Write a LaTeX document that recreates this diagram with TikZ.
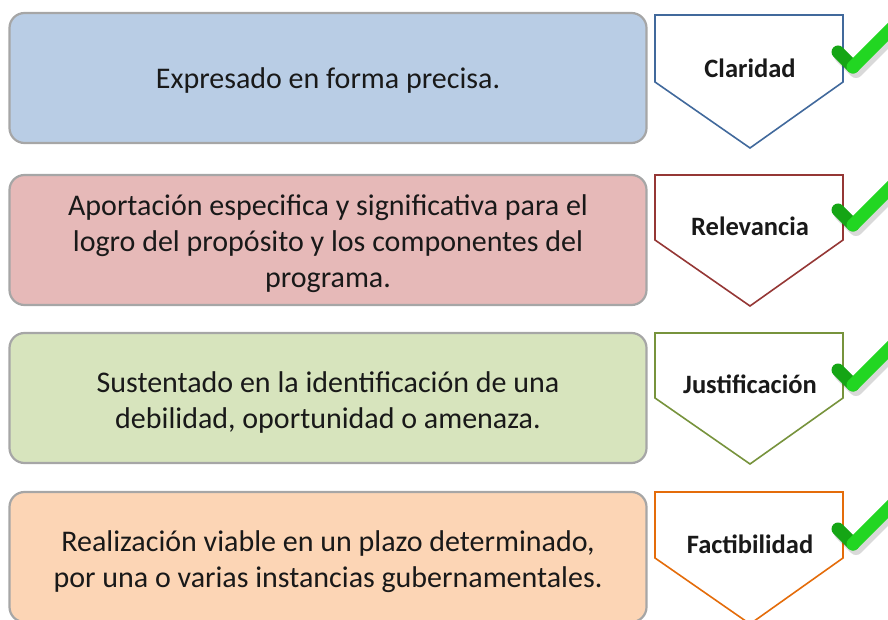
\documentclass[tikz,border=0pt]{standalone}
\usepackage{fontspec}
\setmainfont{Carlito}
\usepackage{tikz}

\definecolor{azulfondo}{HTML}{B9CDE5}
\definecolor{rojofondo}{HTML}{E6B9B8}
\definecolor{verdefondo}{HTML}{D7E4BD}
\definecolor{naranjafondo}{HTML}{FCD5B5}
\definecolor{azulborde}{HTML}{41699C}
\definecolor{rojoborde}{HTML}{953735}
\definecolor{verdeborde}{HTML}{77933C}
\definecolor{naranjaborde}{HTML}{E46C0A}
\definecolor{verdeclaro}{HTML}{22D622}
\definecolor{verdeoscuro}{HTML}{15A515}

\begin{document}
\begin{tikzpicture}[x=1pt,y=-1pt,
  caja/.style={draw=black!35,line width=2.2pt,rounded corners=15pt,
    minimum width=637pt,minimum height=130pt},
  texto/.style={align=center,font=\fontsize{30}{36}\selectfont,text=black!90},
  etiqueta/.style={font=\bfseries\fontsize{26.5}{30}\selectfont,text=black!90},
  flecha/.style={line width=1.6pt,fill=white}]
  \useasboundingbox (0,0) rectangle (888,620);
  % cajas de texto
  \node[caja,fill=azulfondo] (caja1) at (328,78) {};
  \node[caja,fill=rojofondo] (caja2) at (328,240) {};
  \node[caja,fill=verdefondo] (caja3) at (328,398) {};
  \node[caja,fill=naranjafondo] (caja4) at (328,557) {};
  \node[texto] (texto1) at ([yshift=-3pt]caja1.center) {Expresado en forma precisa.};
  \node[texto] (texto2) at ([yshift=-4pt]caja2.center) {Aportación especifica y significativa para el\\logro del propósito y los componentes del\\programa.};
  \node[texto] (texto3) at ([yshift=-4pt]caja3.center) {Sustentado en la identificación de una\\debilidad, oportunidad o amenaza.};
  \node[texto] (texto4) at ([yshift=-5pt]caja4.center) {Realización viable en un plazo determinado,\\por una o varias instancias gubernamentales.};
  % pentagonos
  \draw[flecha,draw=azulborde] (655,15)--(843,15)--(843,82)--(750,148)--(655,82)--cycle;
  \draw[flecha,draw=rojoborde] (655,175)--(843,175)--(843,240)--(750,306)--(655,240)--cycle;
  \draw[flecha,draw=verdeborde] (655,333)--(843,333)--(843,398)--(750,464)--(655,398)--cycle;
  \draw[flecha,draw=naranjaborde] (655,492)--(843,492)--(843,558)--(750,624)--(655,558)--cycle;
  \node[etiqueta] (claridad) at (750,68) {Claridad};
  \node[etiqueta] (relevancia) at (750,226) {Relevancia};
  \node[etiqueta] (justificacion) at (750,384) {Justificación};
  \node[etiqueta] (factibilidad) at (750,544) {Factibilidad};
  % palomitas
  \foreach \y in {0,158,318,477}{
    \draw[black,opacity=0.15,line width=14pt,line cap=round,line join=round]
      (841,56+\y)--(856,71+\y)--(898,29+\y);
    \draw[verdeoscuro,line width=13pt,line cap=round]
      (838,52+\y)--(853,67+\y);
    \draw[verdeclaro,line width=13pt,line cap=round]
      (853,67+\y)--(895,25+\y);
  }
\end{tikzpicture}
\end{document}
